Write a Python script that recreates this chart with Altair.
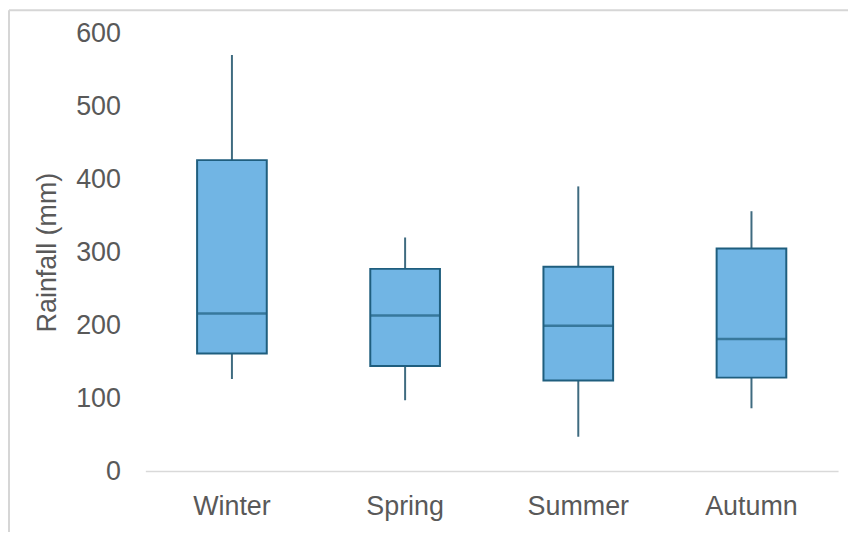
import altair as alt
import pandas as pd

seasons = ["Winter", "Spring", "Summer", "Autumn"]
mins = [126, 97, 47, 86]
q1s = [161, 144, 124, 128]
medians = [216, 213, 199, 181]
q3s = [426, 277, 280, 305]
maxs = [570, 320, 390, 356]

df = pd.DataFrame({"season": seasons, "min": mins, "q1": q1s,
                   "median": medians, "q3": q3s, "max": maxs})

TEXT = "#595959"
FILL = "#71b5e4"
STROKE = "#1f5e7e"
WHISK = "#3f6b80"
FONT = "Liberation Sans"
FS = 27

x = alt.X("season:N", sort=seasons, title=None,
          scale=alt.Scale(paddingInner=0, paddingOuter=0),
          axis=alt.Axis(labelAngle=0, labelFontSize=FS, labelColor=TEXT,
                        labelFont=FONT, ticks=False,
                        domainColor="#d9d9d9", domainWidth=1.5, labelPadding=23))
yscale = alt.Scale(domain=[0, 600], nice=False)
yaxis = alt.Axis(values=[0, 100, 200, 300, 400, 500, 600], grid=False, ticks=False,
                 domain=False, labelFontSize=FS, labelColor=TEXT,
                 labelFont=FONT, labelPadding=25,
                 title="Rainfall (mm)", titleFontSize=FS, titleColor=TEXT,
                 titleFont=FONT, titleFontWeight="normal", titlePadding=14)

base = alt.Chart(df)

whisker = base.mark_rule(color=WHISK, strokeWidth=2).encode(
    x=x, y=alt.Y("min:Q", scale=yscale, axis=yaxis), y2="max:Q")
box = base.mark_bar(size=70, fill=FILL, stroke=STROKE, strokeWidth=2).encode(
    x=x, y=alt.Y("q1:Q", scale=yscale), y2="q3:Q")
med = base.mark_tick(size=70, thickness=2.5, color=STROKE, orient="horizontal").encode(
    x=x, y=alt.Y("median:Q", scale=yscale))

frame_df = pd.DataFrame({"k": [1]})
frame_top = alt.Chart(frame_df).mark_rule(color="#d6d6d6", strokeWidth=2).encode(
    x=alt.value(-137), x2=alt.value(720), y=alt.value(-23))
frame_left = alt.Chart(frame_df).mark_rule(color="#d6d6d6", strokeWidth=2).encode(
    x=alt.value(-137), y=alt.value(-23), y2=alt.value(520))

chart = alt.layer(frame_top, frame_left, whisker, box, med).properties(
    width=696, height=440,
    autosize=alt.AutoSizeParams(type="none"),
    padding={"left": 138, "top": 24, "right": 10, "bottom": 60},
).configure(background="white").configure_view(stroke=None)

chart.save("out.html", embed_options={"renderer": "svg", "actions": False})
